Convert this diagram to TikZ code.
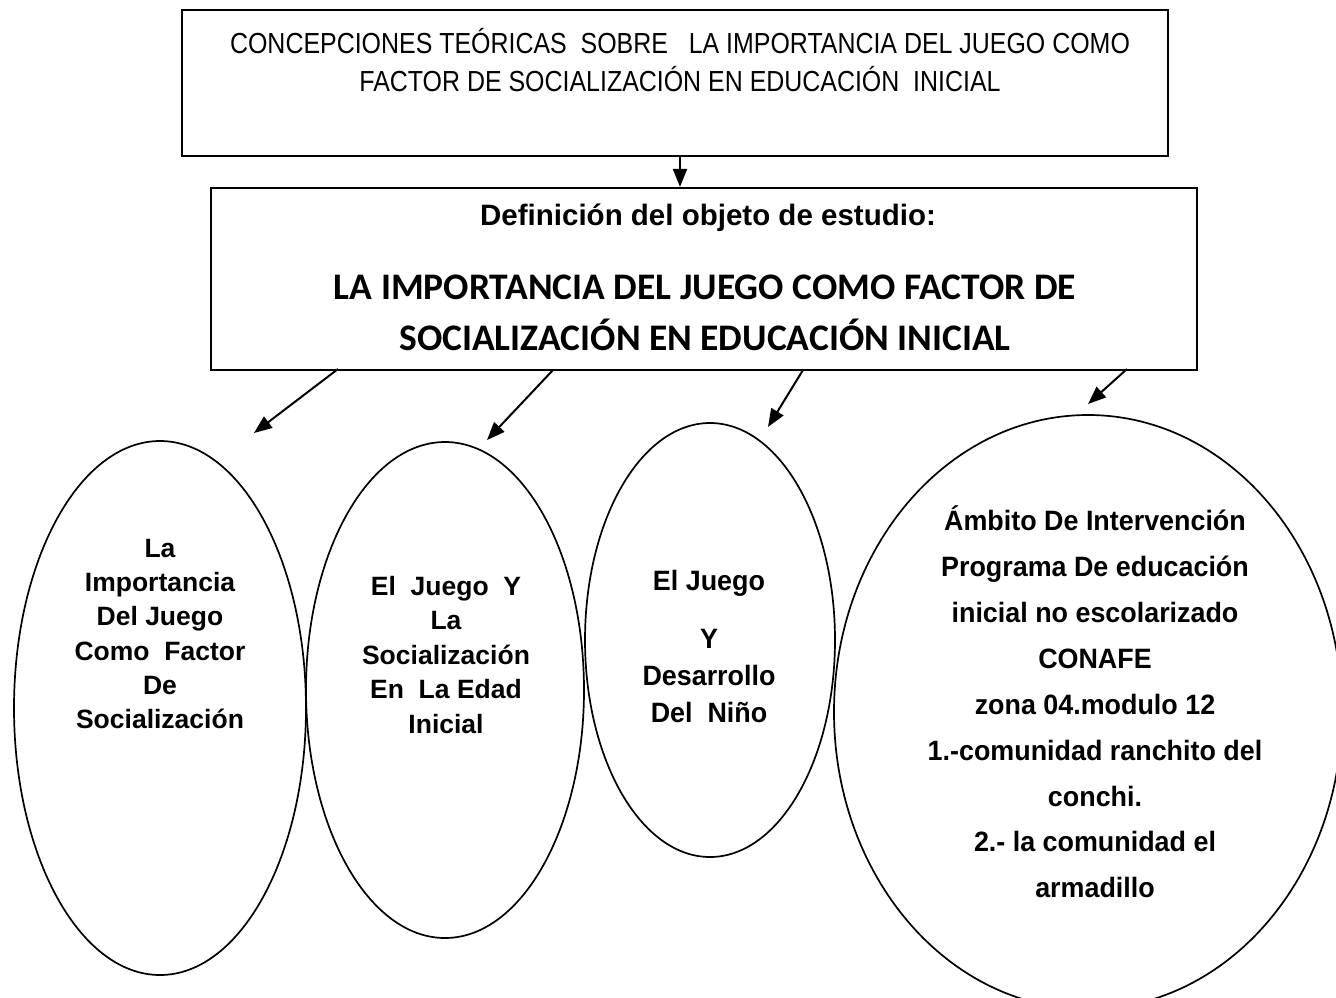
\documentclass[tikz,border=0pt]{standalone}
\usepackage{fontspec}
\setmainfont{Liberation Sans}
\newfontfamily\topfont[FakeStretch=0.86]{Liberation Sans}
\newfontfamily\condfont[FakeStretch=0.96]{Liberation Sans}
\newfontfamily\calib{Carlito}
\usetikzlibrary{shapes.geometric,arrows.meta}
\begin{document}
\begin{tikzpicture}[x=1pt,y=-1pt,
  boxnode/.style={draw, line width=2.2pt, inner sep=0pt, rectangle},
  ovalnode/.style={draw, line width=1.7pt, ellipse, inner sep=0pt},
  conn/.style={line width=2pt, -{Triangle[length=18pt,width=14pt]}},
  txt/.style={align=center, inner sep=0pt, text=black}
]
\useasboundingbox (0,0) rectangle (1336,997);
\clip (0,0) rectangle (1336,997);
\fill[white] (0,0) rectangle (1336,997);

% boxes
\node[boxnode, minimum width=986pt, minimum height=146pt] (top) at (675,83) {};
\node[boxnode, minimum width=986pt, minimum height=182pt] (def) at (704,279) {};

% texts in boxes
\node[txt, font=\topfont\fontsize{29}{38}\selectfont] (toptxt) at (680,60)
  {CONCEPCIONES TEÓRICAS\ \ SOBRE\ \ \ LA IMPORTANCIA DEL JUEGO COMO\\FACTOR DE SOCIALIZACIÓN EN EDUCACIÓN\ \ INICIAL};
\node[txt, font=\bfseries\fontsize{29.5}{34}\selectfont] (deftit) at (708,218) {Definición del objeto de estudio:};
\node[txt, font=\calib\bfseries\fontsize{37.5}{51}\selectfont] (defmain) at (705,313)
  {LA IMPORTANCIA DEL JUEGO COMO FACTOR DE\\SOCIALIZACIÓN EN EDUCACIÓN INICIAL};

% ellipses
\node[ovalnode, minimum width=292pt, minimum height=534pt] (e1) at (160,708) {};
\node[ovalnode, minimum width=278pt, minimum height=496pt] (e2) at (445,690) {};
\node[ovalnode, minimum width=250pt, minimum height=434pt] (e3) at (710,640) {};
\node[ovalnode, minimum width=508pt, minimum height=594pt] (e4) at (1088,712) {};

% ellipse texts
\node[txt, font=\bfseries\fontsize{26.5}{34.4}\selectfont] (t1) at (160,634)
  {La\\Importancia\\Del Juego\\Como\ \ Factor\\De\\Socialización};
\node[txt, font=\bfseries\fontsize{26.5}{34.5}\selectfont] (t2) at (446,655)
  {El\ \ Juego\ \ Y\\La\\Socialización\\En\ \ La Edad\\Inicial};
\node[txt, font=\condfont\bfseries\fontsize{28}{37}\selectfont] (t3) at (709,646)
  {El Juego\\[21pt]Y\\Desarrollo\\Del\ \ Niño};
\node[txt, font=\condfont\bfseries\fontsize{28}{45.9}\selectfont] (t4) at (1095,702)
  {Ámbito De Intervención\\Programa De educación\\inicial no escolarizado\\CONAFE\\zona 04.modulo 12\\1.-comunidad ranchito del\\conchi.\\2.- la comunidad el\\armadillo};

% connector end points
\coordinate (s1) at (338,369);
\coordinate (s2) at (553,370);
\coordinate (s3) at (803,370);
\coordinate (s4) at (1127,369);
\coordinate (p1) at (254,433);
\coordinate (p2) at (487,440);
\coordinate (p3) at (768,427);
\coordinate (p4) at (1088,404);

\draw[conn] (top.south -| 680,0) -- (def.north -| 680,0);
\draw[conn] (s1) -- (p1);
\draw[conn] (s2) -- (p2);
\draw[conn] (s3) -- (p3);
\draw[conn] (s4) -- (p4);
\end{tikzpicture}
\end{document}
